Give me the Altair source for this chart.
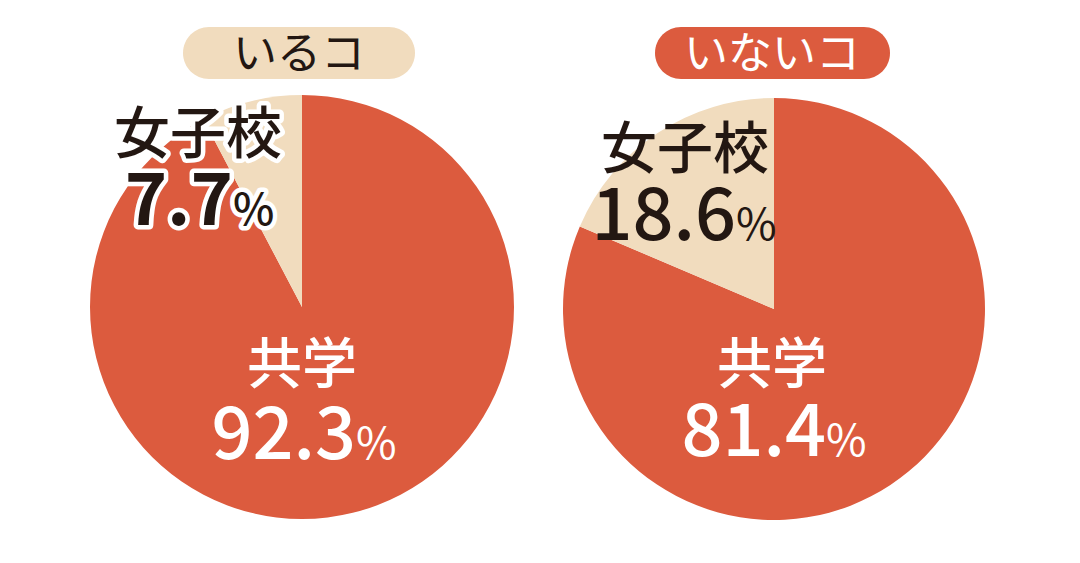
import altair as alt
import pandas as pd

groups = ["いるコ", "いないコ"]
categories = ["共学", "女子校"]
values_iru = [92.3, 7.7]
values_inai = [81.4, 18.6]

RED = "#dc5b3e"
BEIGE = "#f1dcbe"
DARK = "#231712"
FONT = "Noto Sans CJK JP"

one = pd.DataFrame({"k": [0]})


def pie(values, cx, cy, r):
    df = pd.DataFrame({"cat": categories, "val": values, "ord": [0, 1]})
    return alt.Chart(df).mark_arc(radius=r).encode(
        theta=alt.Theta("val:Q", stack=True),
        order=alt.Order("ord:Q"),
        color=alt.Color("cat:N", scale=alt.Scale(domain=categories, range=[RED, BEIGE]), legend=None),
        x=alt.value(cx),
        y=alt.value(cy),
    )


def pill(x1, x2, y1, y2, color):
    return alt.Chart(one).mark_rect(cornerRadius=(y2 - y1) / 2, color=color).encode(
        x=alt.value(x1), x2=alt.value(x2), y=alt.value(y1), y2=alt.value(y2)
    )


def txt(s, x, y, size, color, weight, align="center", halo=False):
    layers = []
    if halo:
        layers.append(
            alt.Chart(one).mark_text(
                text=s, font=FONT, fontSize=size, fontWeight=weight, align=align,
                baseline="alphabetic", fill="white", stroke="white", strokeWidth=9,
                strokeJoin="round",
            ).encode(x=alt.value(x), y=alt.value(y))
        )
    layers.append(
        alt.Chart(one).mark_text(
            text=s, font=FONT, fontSize=size, fontWeight=weight, align=align,
            baseline="alphabetic", color=color,
        ).encode(x=alt.value(x), y=alt.value(y))
    )
    return layers


def fmt(v):
    return f"{v:.1f}"


layers = [
    pie(values_iru, 302, 307, 212),
    pie(values_inai, 774, 309, 211),
    pill(183, 415, 27, 79, BEIGE),
    pill(655, 890, 27, 79, RED),
]
layers += txt(groups[0], 299, 69, 44, DARK, 400)
layers += txt(groups[1], 772, 69, 44, "white", 400)

# left pie labels
layers += txt(categories[1], 198, 153, 56, DARK, 500, halo=True)
layers += txt(fmt(values_iru[1]), 233, 225, 72, DARK, 600, align="right", halo=True)
layers += txt("%", 233, 225, 44, DARK, 500, align="left", halo=True)
layers += txt(categories[0], 302, 383, 55, "white", 500)
layers += txt(fmt(values_iru[0]), 356, 459, 72, "white", 500, align="right")
layers += txt("%", 356, 459, 44, "white", 400, align="left")

# right pie labels
layers += txt(categories[1], 685, 168, 56, DARK, 500)
layers += txt(fmt(values_inai[1]), 736, 240, 72, DARK, 500, align="right")
layers += txt("%", 736, 240, 44, DARK, 400, align="left")
layers += txt(categories[0], 772, 383, 55, "white", 500)
layers += txt(fmt(values_inai[0]), 826, 456, 72, "white", 500, align="right")
layers += txt("%", 826, 456, 44, "white", 400, align="left")

chart = alt.layer(*layers).properties(
    width=1080, height=563, padding=0,
    autosize=alt.AutoSizeParams(type="fit", contains="padding"),
    background="white",
).configure_view(stroke=None)

chart.save("out.html", embed_options={"renderer": "svg", "actions": False})
